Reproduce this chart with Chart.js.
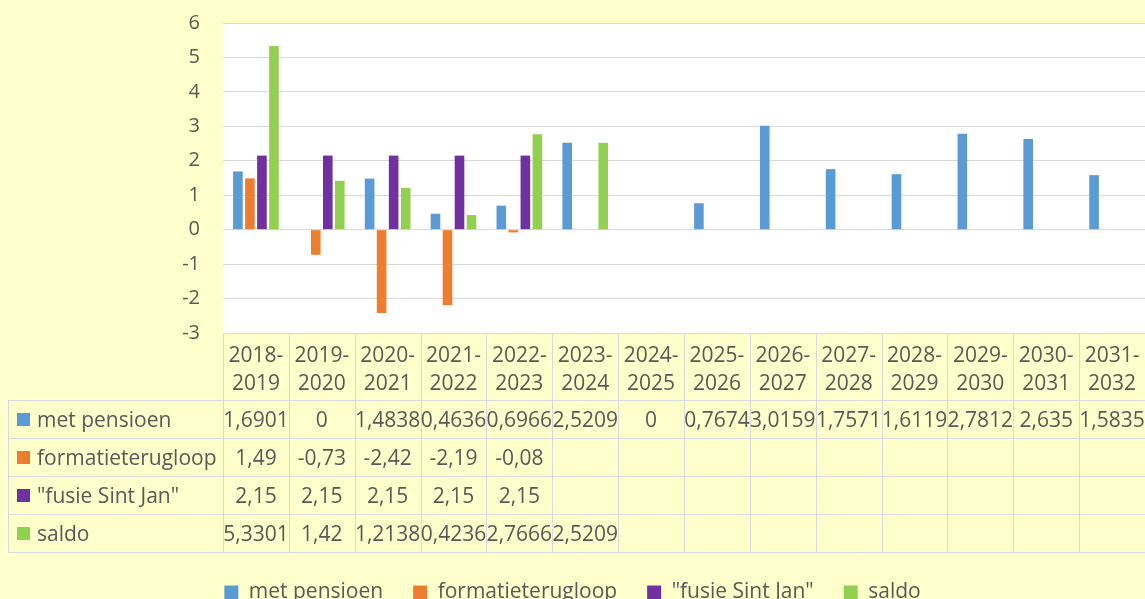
<!DOCTYPE html>
<html>
<head>
<meta charset="utf-8">
<script src="https://cdn.jsdelivr.net/npm/chart.js@4"></script>
<style>
  html, body { margin: 0; padding: 0; background: #ffffcc; width: 1145px; height: 599px; overflow: hidden; }
  #wrap { width: 1145px; height: 613px; }
</style>
</head>
<body>
<div id="wrap"><canvas id="chart"></canvas></div>
<script>
// Schooljaren (categories)
const categories = ['2018-2019', '2019-2020', '2020-2021', '2021-2022', '2022-2023', '2023-2024', '2024-2025',
  '2025-2026', '2026-2027', '2027-2028', '2028-2029', '2029-2030', '2030-2031', '2031-2032']

const metPensioen = [1.6901, 0, 1.4838, 0.4636, 0.6966, 2.5209, 0, 0.7674, 3.0159, 1.7571, 1.6119, 2.7812, 2.635, 1.5835]
const formatieterugloop = [1.49, -0.73, -2.42, -2.19, -0.08, null, null, null, null, null, null, null, null, null]
const fusieSintJan = [2.15, 2.15, 2.15, 2.15, 2.15, null, null, null, null, null, null, null, null, null]
const saldo = [5.3301, 1.42, 1.2138, 0.4236, 2.7666, 2.5209, null, null, null, null, null, null, null, null]

const yTicks = [-3, -2, -1, 0, 1, 2, 3, 4, 5, 6]

const textColor = '#595959'
const lineColor = '#d9d9de'
const fontFamily = "'Open Sans', sans-serif"

// table geometry below the plot
const headerHeight = 67
const rowHeight = 38

const series = [
  { label: 'met pensioen', data: metPensioen, color: '#5b9bd5' },
  { label: 'formatieterugloop', data: formatieterugloop, color: '#ed7d31' },
  { label: '"fusie Sint Jan"', data: fusieSintJan, color: '#7030a0' },
  { label: 'saldo', data: saldo, color: '#92d050' }
]

const formatValue = v => v === null ? '' : String(v).replace('.', ',')

/*
 * Plugin: white plot area + data table under the x axis
**/
const dataTable = {
  id: 'dataTable',
  beforeDraw(chart) {
    const { ctx, chartArea } = chart
    ctx.save()
    ctx.fillStyle = '#ffffff'
    ctx.fillRect(chartArea.left, chartArea.top, chartArea.right - chartArea.left, chartArea.bottom - chartArea.top)
    ctx.restore()
  },
  afterDraw(chart) {
    const { ctx } = chart
    const x = chart.scales.x
    const colW = x.width / categories.length
    const top = x.top
    const rowsTop = top + headerHeight
    const bottom = rowsTop + rowHeight * series.length
    const tableLeft = 8.5

    ctx.save()
    ctx.strokeStyle = lineColor
    ctx.lineWidth = 1
    ctx.beginPath()
    // horizontal lines
    ctx.moveTo(x.left, Math.round(top) + 0.5)
    ctx.lineTo(x.right, Math.round(top) + 0.5)
    for (let r = 0; r <= series.length; r++) {
      const y = Math.round(rowsTop + r * rowHeight) + 0.5
      ctx.moveTo(tableLeft, y)
      ctx.lineTo(x.right, y)
    }
    // vertical lines
    ctx.moveTo(tableLeft, rowsTop)
    ctx.lineTo(tableLeft, bottom)
    for (let i = 0; i <= categories.length; i++) {
      const xx = Math.round(x.left + i * colW) + 0.5
      ctx.moveTo(xx, top)
      ctx.lineTo(xx, bottom)
    }
    ctx.stroke()

    ctx.font = `21px ${fontFamily}`
    ctx.textBaseline = 'middle'
    series.forEach((s, r) => {
      const cy = rowsTop + r * rowHeight + rowHeight / 2 + 2
      ctx.fillStyle = s.color
      ctx.fillRect(17, cy - 8, 13, 13)
      ctx.fillStyle = textColor
      ctx.textAlign = 'left'
      ctx.fillText(s.label, 37, cy)
      ctx.textAlign = 'center'
      s.data.forEach((v, i) => {
        ctx.fillText(formatValue(v), x.getPixelForValue(i), cy)
      })
    })
    ctx.restore()
  }
}

const config = {
  type: 'bar',
  data: {
    labels: categories,
    datasets: series.map(s => ({
      label: s.label,
      data: s.data,
      backgroundColor: s.color,
      borderWidth: 0,
      categoryPercentage: 0.73,
      barPercentage: 0.8
    }))
  },
  options: {
    responsive: true,
    maintainAspectRatio: false,
    animation: false,
    layout: { padding: { top: 23, left: 0, right: 0, bottom: 0 } },
    scales: {
      x: {
        grid: { display: false },
        border: { display: false },
        ticks: {
          color: textColor,
          font: { family: fontFamily, size: 21, lineHeight: 1.33 },
          padding: 1,
          maxRotation: 0,
          autoSkip: false,
          callback: (value, index) => {
            const s = categories[index]
            return [s.slice(0, 5), s.slice(5)]
          }
        },
        afterFit: scale => { scale.height = headerHeight + rowHeight * series.length }
      },
      y: {
        min: yTicks[0],
        max: yTicks[yTicks.length - 1],
        border: { display: false },
        grid: { color: '#d9d9d9', drawTicks: false },
        afterBuildTicks: scale => { scale.ticks = yTicks.map(v => ({ value: v })) },
        ticks: {
          color: textColor,
          font: { family: fontFamily, size: 20 },
          padding: 23
        },
        afterFit: scale => {
          scale.width = 223
          scale.paddingTop = 0
          scale.paddingBottom = 0
        }
      }
    },
    plugins: {
      legend: {
        position: 'bottom',
        labels: {
          boxWidth: 14,
          boxHeight: 14,
          padding: 30,
          color: textColor,
          font: { family: fontFamily, size: 21 }
        }
      },
      tooltip: { enabled: false }
    }
  },
  plugins: [dataTable]
}

new Chart(document.getElementById('chart'), config)
</script>
</body>
</html>
